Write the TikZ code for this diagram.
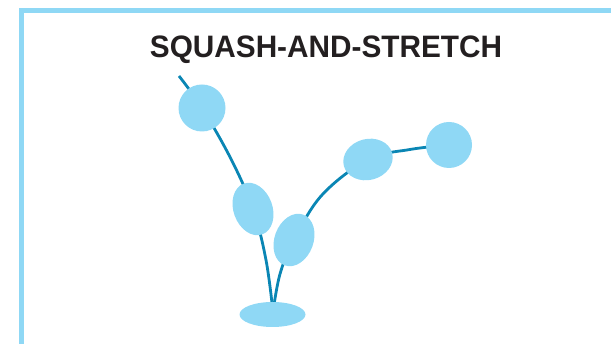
\documentclass[tikz,border=0pt]{standalone}
\usepackage{fontspec}
\setmainfont{Liberation Sans}
\usetikzlibrary{shapes.geometric}
\definecolor{ballblue}{HTML}{8FD8F5}
\definecolor{pathblue}{HTML}{0A86B4}
\definecolor{titleink}{HTML}{231F20}
\begin{document}
\begin{tikzpicture}[x=1pt,y=1pt,
  ball/.style={fill=ballblue,draw=none,ellipse,inner sep=0pt},
  arc path/.style={draw=pathblue,line width=2.8pt},
  frame/.style={draw=ballblue,line width=4.6pt}]
\useasboundingbox (0,0) rectangle (611,344);
% open frame: left and top edges
\draw[frame] (21.5,0) -- (21.5,333.5) -- (611,333.5);
% title
\node[anchor=base,text=titleink,font=\fontsize{31}{36}\selectfont\bfseries] (title) at (326,286)
  {\scalebox{0.96}[1]{SQUASH-AND-STRETCH}};
% trajectory anchors
\coordinate (start) at (179,268);
\coordinate (p1) at (202,236);
\coordinate (p2) at (253,135);
\coordinate (ground) at (273,32);
\coordinate (p3) at (294,104);
\coordinate (p4) at (368,184.5);
\coordinate (p5) at (449,199);
% trajectory
\draw[arc path] plot[smooth,tension=0.6] coordinates
  {(start) (p1) (231,185) (p2) (266,84) (ground)};
\draw[arc path] plot[smooth,tension=0.6] coordinates
  {(ground) (280,70) (p3) (322,149) (p4) (410,194.5) (p5)};
% balls
\node[ball,minimum width=47pt,minimum height=47pt] (b1) at (p1) {};
\node[ball,minimum width=39pt,minimum height=54pt,rotate=20] (b2) at (p2) {};
\node[ball,minimum width=66pt,minimum height=25pt] (b0) at (272.5,29.5) {};
\node[ball,minimum width=39pt,minimum height=54pt,rotate=-20] (b3) at (p3) {};
\node[ball,minimum width=50pt,minimum height=41pt,rotate=15] (b4) at (p4) {};
\node[ball,minimum width=46pt,minimum height=46pt] (b5) at (p5) {};
\end{tikzpicture}
\end{document}
